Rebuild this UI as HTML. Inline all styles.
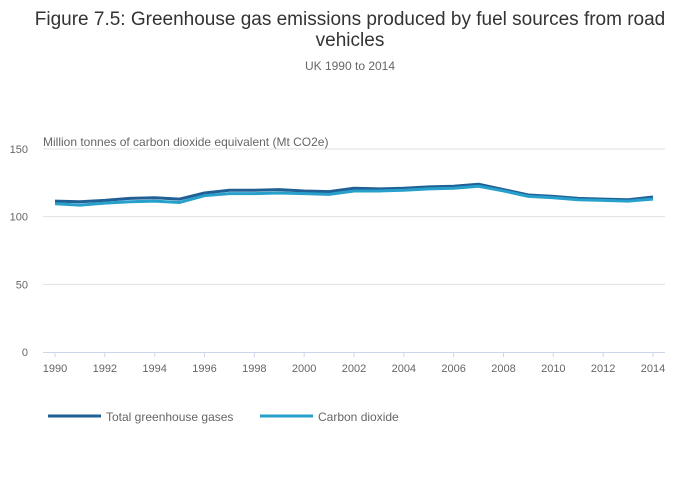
<!DOCTYPE html>
<html><head><meta charset="utf-8"><style>
body{margin:0;background:#fff;font-family:"Liberation Sans",sans-serif;}
svg{display:block}
</style></head><body>
<svg id="chart" width="700" height="502">
<text x="350" y="25" text-anchor="middle" font-size="19" fill="#333">Figure 7.5: Greenhouse gas emissions produced by fuel sources from road</text>
<text x="350" y="46" text-anchor="middle" font-size="19" fill="#333">vehicles</text>
<text x="350" y="70" text-anchor="middle" font-size="12" fill="#666">UK 1990 to 2014</text>
<text x="43" y="146" font-size="12" fill="#666">Million tonnes of carbon dioxide equivalent (Mt CO2e)</text>
<g id="grid"></g><g id="xaxis"></g><g id="series"></g>
<g>
<line x1="48" y1="416" x2="101" y2="416" stroke="#206095" stroke-width="3"/>
<text x="106" y="421" font-size="12" fill="#666">Total greenhouse gases</text>
<line x1="260" y1="416" x2="313" y2="416" stroke="#27a0cc" stroke-width="3"/>
<text x="318" y="421" font-size="12" fill="#666">Carbon dioxide</text>
</g>
</svg>
<script>
const years=[1990,1991,1992,1993,1994,1995,1996,1997,1998,1999,2000,2001,2002,2003,2004,2005,2006,2007,2008,2009,2010,2011,2012,2013,2014];
const totalGHG=[111.5,111,112,113.5,114,113,117.5,119.5,119.5,120,119,118.5,121,120.5,121,122,122.5,124,120,116,115,113.5,113,112.5,114.5];
const carbonDioxide=[109.5,108.5,110,111,111.5,110.5,115.5,117,117,117.5,117,116.5,119,119,119.5,120.5,121,122.5,119,115,114,112.5,112,111.5,113];
const yTicks=[0,50,100,150];
const xTickLabels=[1990,1992,1994,1996,1998,2000,2002,2004,2006,2008,2010,2012,2014];
const NS="http://www.w3.org/2000/svg";
const X=v=>55+(v-1990)*(653-55)/24;
const Y=v=>352-v*(352-149)/150;
function mk(t,a,p){const e=document.createElementNS(NS,t);for(const k in a)e.setAttribute(k,a[k]);p.appendChild(e);return e;}
const grid=document.getElementById('grid'),xa=document.getElementById('xaxis'),se=document.getElementById('series');
yTicks.forEach(v=>{
 if(v>0){const l=mk('line',{x1:43,x2:665,y1:Y(v),y2:Y(v),stroke:'#e0e0e0'},grid);
 
 }
 const t=mk('text',{x:28,y:Y(v)+4,'text-anchor':'end','font-size':11,fill:'#666'},grid);t.textContent=v;
 
 
});
const ax=mk('line',{x1:43,x2:665,y1:352.5,y2:352.5,stroke:'#ccd6eb'},xa);


xTickLabels.forEach(v=>{
 const tk=mk('line',{x1:X(v),x2:X(v),y1:352,y2:357,stroke:'#ccd6eb'},xa);
 
 
 const t=mk('text',{x:X(v),y:372,'text-anchor':'middle','font-size':11,fill:'#666'},xa);t.textContent=v;
 
 
});
function line(vals,color,name){
 const d=vals.map((v,i)=>(i?'L':'M')+X(years[i])+','+Y(v)).join(' ');
 const p=mk('path',{d:d,fill:'none',stroke:color,'stroke-width':3,'stroke-linejoin':'round'},se);
 
 
}
line(totalGHG,'#206095','line-total-greenhouse-gases');
line(carbonDioxide,'#27a0cc','line-carbon-dioxide');
</script>
</body></html>
